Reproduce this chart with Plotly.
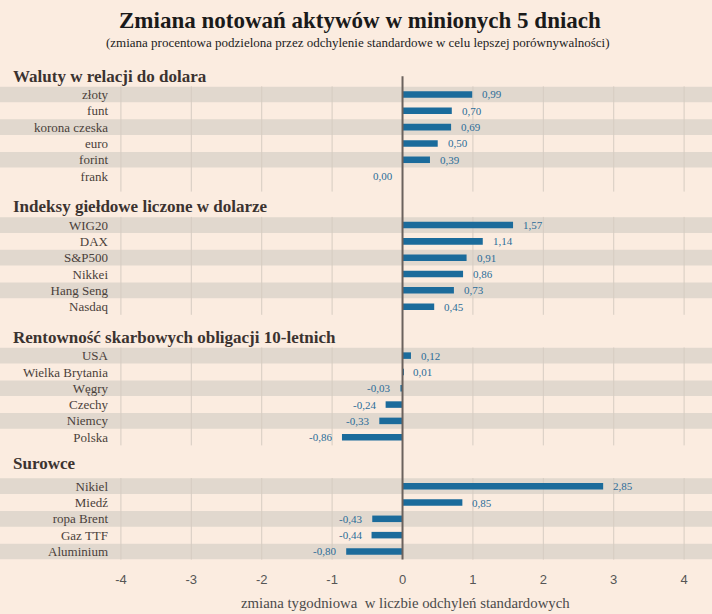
import plotly.graph_objects as go

# ---------------- data ----------------
section_titles = [
    "Waluty w relacji do dolara",
    "Indeksy giełdowe liczone w dolarze",
    "Rentowność skarbowych obligacji 10-letnich",
    "Surowce",
]
waluty_labels = ["złoty", "funt", "korona czeska", "euro", "forint", "frank"]
waluty_values = [0.99, 0.70, 0.69, 0.50, 0.39, 0.00]
indeksy_labels = ["WIG20", "DAX", "S&P500", "Nikkei", "Hang Seng", "Nasdaq"]
indeksy_values = [1.57, 1.14, 0.91, 0.86, 0.73, 0.45]
obligacje_labels = ["USA", "Wielka Brytania", "Węgry", "Czechy", "Niemcy", "Polska"]
obligacje_values = [0.12, 0.01, -0.03, -0.24, -0.33, -0.86]
surowce_labels = ["Nikiel", "Miedź", "ropa Brent", "Gaz TTF", "Aluminium"]
surowce_values = [2.85, 0.85, -0.43, -0.44, -0.80]
x_ticks = [-4, -3, -2, -1, 0, 1, 2, 3, 4]

title = "Zmiana notowań aktywów w minionych 5 dniach"
subtitle = "(zmiana procentowa podzielona przez odchylenie standardowe w celu lepszej porównywalności)"
x_title = "zmiana tygodniowa  w liczbie odchyleń standardowych"

# ---------------- style ----------------
BG = "#fbece0"
BAND = "#e1d8ce"
GRID = "#d6ccc2"
BAR = "#1b6b9b"
VAL = "#2b6c98"
LBL = "#4a3f3a"
HDR = "#3b3330"
SERIF = "Liberation Serif, DejaVu Serif, serif"

groups = [
    (waluty_labels, waluty_values),
    (indeksy_labels, indeksy_values),
    (obligacje_labels, obligacje_values),
    (surowce_labels, surowce_values),
]
header_offsets = [-1.09, -1.13, -1.14, -1.36]
grid_end_extra = [0.95, 0.5, 0.5, 0.5]

ys, xs, names = [], [], []
shapes, annotations = [], []
start = 0
sections = []
for gi, (labs, vals) in enumerate(groups):
    rows = [start + i for i in range(len(labs))]
    sections.append((rows[0], rows[-1]))
    for i, (r, l, v) in enumerate(zip(rows, labs, vals)):
        ys.append(r)
        xs.append(v)
        names.append(l)
        if i % 2 == 0:
            shapes.append(dict(type="rect", xref="paper", yref="y", x0=-1, x1=1,
                               y0=r - 0.48, y1=r + 0.48, fillcolor=BAND,
                               line=dict(width=0), layer="below"))
    # header
    annotations.append(dict(xref="paper", yref="y", x=(11 - 115) / 597, y=start + header_offsets[gi],
                            xanchor="left", yanchor="middle", showarrow=False,
                            text="<b>" + section_titles[gi] + "</b>",
                            font=dict(family=SERIF, size=17, color=HDR)))
    start = rows[-1] + 3

# gridlines per section
for gi, (a, b) in enumerate(sections):
    for t in x_ticks:
        if t == 0:
            continue
        shapes.append(dict(type="line", xref="x", yref="y", x0=t, x1=t,
                           y0=a - 0.5, y1=b + grid_end_extra[gi],
                           line=dict(color=GRID, width=1), layer="below"))

# zero line
shapes.append(dict(type="line", xref="x", yref="y", x0=0, x1=0, y0=-1.12, y1=28.5,
                   line=dict(color="#6b625d", width=2), layer="above"))

# value labels
for r, v in zip(ys, xs):
    txt = f"{v:.2f}".replace(".", ",")
    pos = v > 0
    annotations.append(dict(xref="x", yref="y", x=v, y=r, text=txt, showarrow=False,
                            xanchor="left" if pos else "right", yanchor="middle",
                            xshift=8 if pos else -8,
                            font=dict(family=SERIF, size=11, color=VAL)))

# title / subtitle / axis title
annotations.append(dict(xref="paper", yref="paper", x=(360 - 115) / 597, y=(570 - 20) / 570,
                        text="<b>" + title + "</b>", showarrow=False,
                        xanchor="center", yanchor="middle",
                        font=dict(family=SERIF, size=23, color="#1a1a1a")))
annotations.append(dict(xref="paper", yref="paper", x=(358 - 115) / 597, y=(570 - 42) / 570,
                        text=subtitle, showarrow=False, xanchor="center", yanchor="middle",
                        font=dict(family=SERIF, size=13, color="#222222")))
annotations.append(dict(xref="x", yref="paper", x=0.04, y=(570 - 603) / 570,
                        text=x_title, showarrow=False, xanchor="center", yanchor="middle",
                        font=dict(family=SERIF, size=14.8, color="#4a4a4a")))

fig = go.Figure(go.Bar(
    x=xs, y=ys, orientation="h", width=0.4,
    marker=dict(color=BAR, line=dict(width=0)),
    hoverinfo="skip",
))

fig.update_layout(
    width=712, height=614,
    margin=dict(l=115, r=0, t=0, b=44),
    paper_bgcolor=BG, plot_bgcolor="rgba(0,0,0,0)",
    showlegend=False,
    separators=", ",
    shapes=shapes,
    annotations=annotations,
    xaxis=dict(range=[-4.084, 4.396], tickvals=x_ticks, ticktext=[str(t) for t in x_ticks],
               showgrid=False, zeroline=False, showline=False, ticks="",
               tickfont=dict(family="Liberation Sans Narrow, Liberation Sans, sans-serif",
                             size=13, color="#555555"),
               fixedrange=True),
    yaxis=dict(range=[29.136, -5.79], tickvals=ys, ticktext=names,
               showgrid=False, zeroline=False, showline=False, ticks="",
               ticklabelstandoff=6,
               tickfont=dict(family=SERIF, size=13, color=LBL),
               fixedrange=True),
)

fig.write_html(
    "out.html",
    config={"displayModeBar": False},
    post_script="document.body.style.margin='0';document.body.style.overflow='hidden';"
                "document.body.style.background='" + BG + "';",
)
